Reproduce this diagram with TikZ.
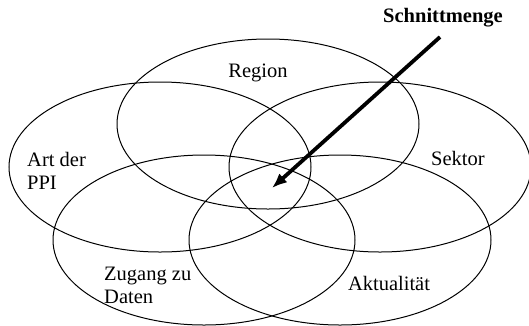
\documentclass[tikz,border=0pt]{standalone}
\usepackage{fontspec}
\setmainfont{Liberation Serif}
\usetikzlibrary{shapes.geometric, arrows.meta, positioning}

\begin{document}
\begin{tikzpicture}[
    x=1pt, y=-1pt,
    menge/.style={draw, ellipse, line width=1pt, minimum width=302pt,
                 minimum height=170pt, inner sep=0pt},
    beschr/.style={inner sep=0pt, align=left, font=\fontsize{20.5}{23}\selectfont},
    pfeil/.style={-{Latex[length=15pt, width=12pt]}, line width=3.8pt}
]
\useasboundingbox (0,0) rectangle (529,325);
% die fuenf Mengen
\node[menge] (region) at (268,124) {};
\node[menge] (art) at (160,167) {};
\node[menge] (sektor) at (380,167) {};
\node[menge] (zugang) at (204,240) {};
\node[menge] (aktual) at (340,240) {};
% Beschriftungen
\node[beschr] (tregion) at (258,73) {Region};
\node[beschr, anchor=west] (tart) at (27,171) {Art der\\PPI};
\node[beschr] (tsektor) at (458,158) {Sektor};
\node[beschr, anchor=west] (tzugang) at (104,285) {Zugang zu\\Daten};
\node[beschr] (taktual) at (389,283) {Aktualität};
\node[beschr, font=\fontsize{20.5}{23}\selectfont\bfseries] (tschnitt) at (443,18) {Schnittmenge};
% Pfeil auf die Schnittmenge
\coordinate (pstart) at (440,37);
\coordinate (kern) at (272,188);
\draw[pfeil] (pstart) -- (kern);
\end{tikzpicture}
\end{document}
